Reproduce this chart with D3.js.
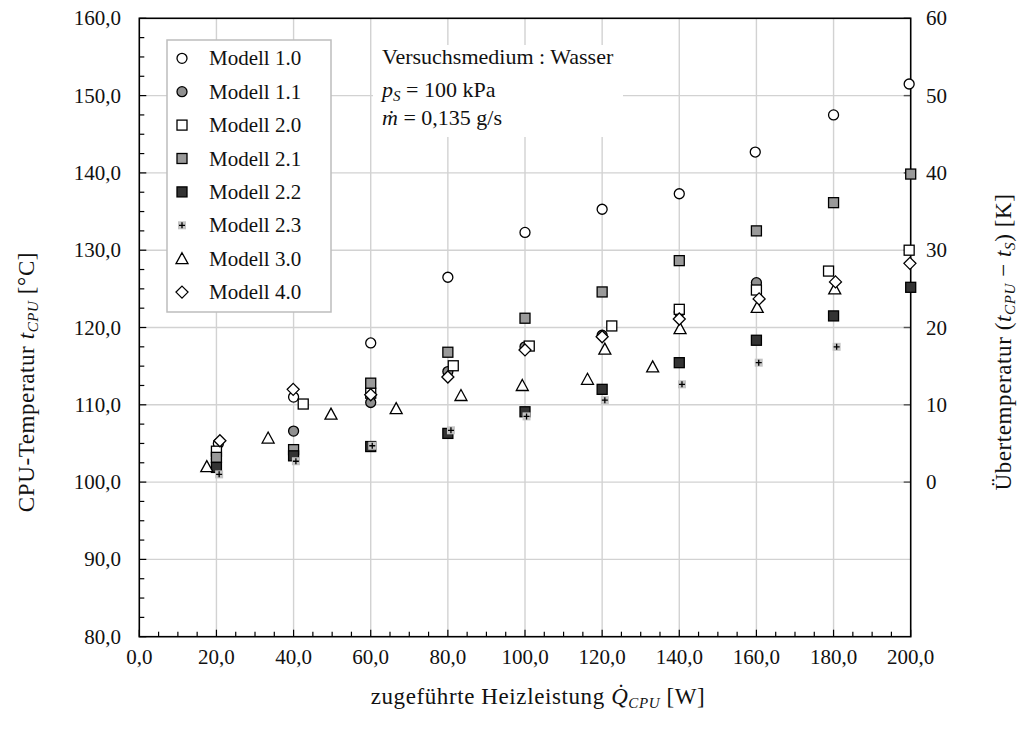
<!DOCTYPE html>
<html><head><meta charset="utf-8">
<script src="https://cdn.jsdelivr.net/npm/d3@7"></script>
<style>body{margin:0;background:#fff}</style>
</head><body><svg id="c" width="1022" height="740" font-family="'Liberation Serif', Tinos, 'DejaVu Serif', 'Noto Serif', serif"></svg>
<script>
// ---- data ----
const seriesNames = ["Modell 1.0","Modell 1.1","Modell 2.0","Modell 2.1","Modell 2.2","Modell 2.3","Modell 3.0","Modell 4.0"];
const m10x = [20.5,40,60,80,100,120,140,159.7,180,199.6];
const m10y = [105.0,111.0,118.0,126.5,132.3,135.3,137.3,142.7,147.5,151.5];
const m11x = [20,40,60,80,100,120,140,160];
const m11y = [103.0,106.6,110.3,114.3,117.5,119.0,122.0,125.8];
const m20x = [20,42.5,60,81.4,101.1,122.5,140,160,178.7,199.6];
const m20y = [104.0,110.1,111.5,115.05,117.6,120.2,122.35,124.85,127.3,130.0];
const m21x = [20,40,60,80,100,120,140,160,180,200];
const m21y = [103.2,104.2,112.8,116.8,121.2,124.6,128.65,132.5,136.15,139.85];
const m22x = [20,40,60,80,100,120,140,160,180,200];
const m22y = [101.9,103.4,104.6,106.3,109.1,112.0,115.45,118.35,121.5,125.2];
const m23x = [20.7,40.6,60.4,80.8,100.4,120.7,140.7,160.6,180.8];
const m23y = [101.0,102.7,104.7,106.7,108.5,110.6,112.65,115.45,117.5];
const m30x = [17.5,33.4,49.7,66.6,83.4,99.3,116.2,120.7,133.1,140.2,160.2,180.3];
const m30y = [102.0,105.7,108.8,109.5,111.2,112.5,113.3,117.2,114.9,119.85,122.6,125.0];
const m40x = [20.9,39.9,60,80,100,120,140,160.7,180.5,199.8];
const m40y = [105.35,112.0,111.3,113.6,117.1,118.8,121.1,123.7,125.9,128.3];
const xTicks = [0,20,40,60,80,100,120,140,160,180,200];
const yTicks = [80,90,100,110,120,130,140,150,160];
const y2Ticks = [0,10,20,30,40,50,60];
const noteLines = ["Versuchsmedium : Wasser"];

// ---- layout ----
const svg = d3.select("#c");
const L = 139.3, R = 910.7, T = 18.3, B = 636.7;
const x = d3.scaleLinear().domain([0,200]).range([L,R]);
const y = d3.scaleLinear().domain([80,160]).range([B,T]);
const y2 = d3.scaleLinear().domain([-20,60]).range([B,T]);
const fmt = v => v.toFixed(1).replace(".", ",");
const FS = 21, TFS = 23;

// grid
const g = svg.append("g");
g.selectAll("line.gx").data(xTicks.slice(1,-1)).join("line")
  .attr("x1",d=>x(d)).attr("x2",d=>x(d)).attr("y1",T).attr("y2",B)
  .attr("stroke","#d2d2d2").attr("stroke-width",1.4);
g.selectAll("line.gy").data(yTicks.slice(1,-1)).join("line")
  .attr("y1",d=>y(d)).attr("y2",d=>y(d)).attr("x1",L).attr("x2",R)
  .attr("stroke","#d2d2d2").attr("stroke-width",1.4);

// annotation box (white, no border)
svg.append("rect").attr("x",373).attr("y",45).attr("width",250).attr("height",92).attr("fill","#fff");
const ann = svg.append("g").style("font-size","22px").attr("fill","#111");
ann.append("text").attr("x",382).attr("y",64).text(noteLines[0]);
const t2 = ann.append("text").attr("x",382).attr("y",97);
t2.append("tspan").style("font-style","italic").text("p");
t2.append("tspan").style("font-style","italic").style("font-size","15px").attr("dy",4).text("S");
t2.append("tspan").attr("dy",-4).text(" = 100 kPa");
const t3 = ann.append("text").attr("x",382).attr("y",125);
t3.append("tspan").style("font-style","italic").text("ṁ");
t3.append("tspan").text(" = 0,135 g/s");

// axes (inward ticks)
const ax = svg.append("g").attr("stroke","#000");
const xMinor = d3.range(0,201,5);
ax.selectAll("line.xt").data(xMinor).join("line")
  .attr("x1",d=>x(d)).attr("x2",d=>x(d)).attr("y1",B)
  .attr("y2",d=> d%20===0 ? B-7 : B-5).attr("stroke-width",1.2);
const yMinor = d3.range(80,160.01,2.5);
ax.selectAll("line.yt").data(yMinor).join("line")
  .attr("y1",d=>y(d)).attr("y2",d=>y(d)).attr("x1",L)
  .attr("x2",d=> d%10===0 ? L+7 : L+5).attr("stroke-width",1.2);
ax.selectAll("line.y2t").data(y2Ticks).join("line")
  .attr("y1",d=>y2(d)).attr("y2",d=>y2(d)).attr("x1",R).attr("x2",R-7)
  .attr("stroke","#555").attr("stroke-width",1.4);
svg.append("rect").attr("x",L).attr("y",T).attr("width",R-L).attr("height",B-T)
  .attr("fill","none").attr("stroke","#000").attr("stroke-width",1.6);

// tick labels
const lab = svg.append("g").style("font-size",FS+"px").attr("fill","#111");
lab.selectAll("text.xl").data(xTicks).join("text")
  .attr("x",d=>x(d)).attr("y",664).attr("text-anchor","middle").text(fmt);
lab.selectAll("text.yl").data(yTicks).join("text")
  .attr("x",121).attr("y",d=>y(d)+7).attr("text-anchor","end").text(fmt);
lab.selectAll("text.y2l").data(y2Ticks).join("text")
  .attr("x",926).attr("y",d=>y2(d)+7).attr("text-anchor","start").text(d=>d);

// axis titles
const titles = svg.append("g").style("font-size",TFS+"px").style("letter-spacing","0.6px").attr("fill","#111");
const xt = titles.append("text").attr("x",538).attr("y",704).attr("text-anchor","middle");
xt.append("tspan").text("zugeführte Heizleistung ");
xt.append("tspan").style("font-style","italic").text("Q̇");
xt.append("tspan").style("font-style","italic").style("font-size","15px").attr("dy",4).text("CPU");
xt.append("tspan").attr("dy",-4).text(" [W]");

const yt = titles.append("text").attr("transform","translate(34,382) rotate(-90)").attr("text-anchor","middle");
yt.append("tspan").text("CPU-Temperatur ");
yt.append("tspan").style("font-style","italic").text("t");
yt.append("tspan").style("font-style","italic").style("font-size","15px").attr("dy",4).text("CPU");
yt.append("tspan").attr("dy",-4).text(" [°C]");

const y2t = titles.append("text").attr("transform","translate(1011,342) rotate(-90)").attr("text-anchor","middle");
y2t.append("tspan").text("Übertemperatur (");
y2t.append("tspan").style("font-style","italic").text("t");
y2t.append("tspan").style("font-style","italic").style("font-size","15px").attr("dy",4).text("CPU");
y2t.append("tspan").attr("dy",-4).text(" − ");
y2t.append("tspan").style("font-style","italic").text("t");
y2t.append("tspan").style("font-style","italic").style("font-size","15px").attr("dy",4).text("S");
y2t.append("tspan").attr("dy",-4).text(") [K]");

// markers
function marker(sel, type){
  if(type==="circO"||type==="circG"){
    sel.append("circle").attr("r",5).attr("fill",type==="circO"?"#fff":"#8f8f8f").attr("stroke","#000").attr("stroke-width",1.3);
  } else if(type==="sqO"||type==="sqG"||type==="sqD"){
    const f = type==="sqO"?"#fff":type==="sqG"?"#9a9a9a":"#333";
    sel.append("rect").attr("x",-5).attr("y",-5).attr("width",10).attr("height",10).attr("fill",f).attr("stroke","#000").attr("stroke-width",1.3);
  } else if(type==="plus"){
    sel.append("rect").attr("x",-4).attr("y",-4).attr("width",8).attr("height",8).attr("fill","#c4c4c4");
    sel.append("path").attr("d","M-3,0H3M0,-3V3").attr("stroke","#000").attr("stroke-width",1.3);
  } else if(type==="tri"){
    sel.append("path").attr("d","M0,-6L6,5L-6,5Z").attr("fill","#fff").attr("stroke","#000").attr("stroke-width",1.3);
  } else if(type==="dia"){
    sel.append("path").attr("d","M0,-6L6,0L0,6L-6,0Z").attr("fill","#fff").attr("stroke","#000").attr("stroke-width",1.3);
  }
}
const series = [
  {name:seriesNames[0], xs:m10x, ys:m10y, type:"circO"},
  {name:seriesNames[1], xs:m11x, ys:m11y, type:"circG"},
  {name:seriesNames[2], xs:m20x, ys:m20y, type:"sqO"},
  {name:seriesNames[3], xs:m21x, ys:m21y, type:"sqG"},
  {name:seriesNames[4], xs:m22x, ys:m22y, type:"sqD"},
  {name:seriesNames[5], xs:m23x, ys:m23y, type:"plus"},
  {name:seriesNames[6], xs:m30x, ys:m30y, type:"tri"},
  {name:seriesNames[7], xs:m40x, ys:m40y, type:"dia"}
];
const pts = svg.append("g");
series.forEach(s=>{
  s.xs.forEach((xv,i)=>{
    const gg = pts.append("g").attr("transform",`translate(${x(xv)},${y(s.ys[i])})`);
    marker(gg, s.type);
  });
});

// legend
const lg = svg.append("g");
lg.append("rect").attr("x",167).attr("y",40).attr("width",164).attr("height",272)
  .attr("fill","#fff").attr("stroke","#bdbdbd").attr("stroke-width",1.5);
series.forEach((s,i)=>{
  const yy = 58.3 + i*33.4;
  const gg = lg.append("g").attr("transform",`translate(182,${yy})`);
  marker(gg, s.type);
  lg.append("text").attr("x",209).attr("y",yy+7).style("font-size",FS+"px").attr("fill","#111").text(s.name);
});
</script></body></html>
